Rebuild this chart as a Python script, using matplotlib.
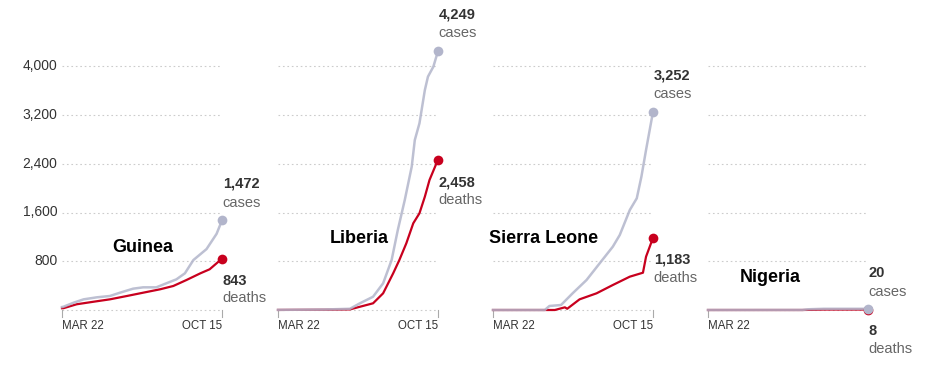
import matplotlib
matplotlib.use("Agg")
import matplotlib.pyplot as plt

# ---- data (day offsets from Mar 22; values) ----
guinea_case_days = [0, 2, 15, 28, 45, 62, 75, 92, 105, 122, 135, 148, 159, 170, 187, 200, 207]
guinea_cases = [49, 54, 120, 175, 208, 230, 284, 350, 372, 372, 438, 503, 602, 820, 1000, 1250, 1472]
guinea_death_days = [0, 2, 19, 41, 62, 84, 105, 127, 144, 161, 179, 191, 207]
guinea_deaths = [29, 30, 94, 136, 175, 230, 284, 340, 394, 492, 602, 668, 843]

liberia_case_days = [0, 60, 93, 106, 123, 136, 147, 155, 164, 173, 177, 183, 190, 194, 201, 207]
liberia_cases = [2, 8, 20, 110, 218, 438, 820, 1313, 1805, 2352, 2790, 3063, 3610, 3829, 3993, 4249]
liberia_death_days = [0, 60, 93, 123, 136, 149, 157, 166, 175, 183, 190, 196, 205, 207]
liberia_deaths = [1, 5, 10, 110, 274, 602, 820, 1094, 1423, 1587, 1860, 2133, 2407, 2458]

sierra_case_days = [0, 67, 73, 88, 103, 121, 138, 155, 164, 177, 186, 192, 198, 207]
sierra_cases = [0, 0, 66, 82, 274, 492, 766, 1039, 1231, 1641, 1833, 2188, 2626, 3252]
sierra_death_days = [0, 80, 93, 96, 112, 134, 155, 177, 194, 198, 207]
sierra_deaths = [0, 0, 44, 20, 175, 274, 410, 547, 612, 875, 1183]

nigeria_case_days = [0, 122, 130, 150, 207]
nigeria_cases = [0, 1, 12, 20, 20]
nigeria_death_days = [0, 122, 130, 150, 207]
nigeria_deaths = [0, 0, 2, 8, 8]

countries = ["Guinea", "Liberia", "Sierra Leone", "Nigeria"]
y_ticks = [0, 800, 1600, 2400, 3200, 4000]
y_tick_labels = ["", "800", "1,600", "2,400", "3,200", "4,000"]
x_labels = ["MAR 22", "OCT 15"]
total_days = 207

series = [
    (guinea_case_days, guinea_cases, guinea_death_days, guinea_deaths),
    (liberia_case_days, liberia_cases, liberia_death_days, liberia_deaths),
    (sierra_case_days, sierra_cases, sierra_death_days, sierra_deaths),
    (nigeria_case_days, nigeria_cases, nigeria_death_days, nigeria_deaths),
]

# ---- layout ----
W, H = 930, 370
fig = plt.figure(figsize=(W / 100, H / 100), dpi=100)
fig.patch.set_facecolor("white")

CASE_C = "#b2b5cb"
DEATH_C = "#c8001e"
TXT = "#333333"
SUB = "#666666"
LABEL_FONT = ["Liberation Sans Narrow", "Liberation Sans", "DejaVu Sans"]
FONT = ["Liberation Sans", "DejaVu Sans"]

y0_px = 310
px_per_unit = 48.75 / 800
ymax = 4400
ax_h_px = ymax * px_per_unit
panel_left = [62, 278, 493, 708]
panel_w = 160

label_pos = [(105, 1020), (105, 1170), (66, 1170), (80, 540)]

for i, (cd, cv, dd, dv) in enumerate(series):
    left = panel_left[i] / W
    bottom = (H - y0_px) / H
    ax = fig.add_axes([left, bottom, panel_w / W, ax_h_px / H])
    ax.set_xlim(0, total_days)
    ax.set_ylim(0, ymax)
    for s in ax.spines.values():
        s.set_visible(False)
    ax.set_xticks([])
    ax.set_yticks([])
    for yt in y_ticks:
        ax.plot([0, total_days], [yt, yt], color="#cccccc", lw=0.8,
                ls=(0, (1.5, 2.5)), zorder=1, clip_on=False)
    if i == 0:
        for yt, lab in zip(y_ticks, y_tick_labels):
            if lab:
                ax.text(-6, yt, lab, ha="right", va="center", fontsize=10,
                        color=TXT, family=FONT)
    ax.plot([0, 0], [0, -110], color="#aaaaaa", lw=0.8, clip_on=False)
    ax.text(0, -260, x_labels[0], ha="left", va="center", fontsize=8.3,
            color=TXT, family=FONT)
    if i != 3:
        ax.plot([total_days, total_days], [0, -110], color="#aaaaaa",
                lw=0.8, clip_on=False)
        ax.text(total_days, -260, x_labels[1], ha="right", va="center",
                fontsize=8.3, color=TXT, family=FONT)
    ax.plot(dd, dv, color=DEATH_C, lw=1.6, zorder=3, clip_on=False,
            solid_joinstyle="round")
    ax.plot(cd, cv, color=CASE_C, lw=1.8, zorder=4, clip_on=False,
            alpha=0.85, solid_joinstyle="round")
    ax.plot([dd[-1]], [dv[-1]], "o", color=DEATH_C, ms=7, zorder=5,
            clip_on=False, mec="none")
    ax.plot([cd[-1]], [cv[-1]], "o", color=CASE_C, ms=7, zorder=6,
            clip_on=False, mec="none")
    lx, ly = label_pos[i]
    ax.text(lx, ly, countries[i], ha="center", va="center", fontsize=13,
            fontweight="bold", color="black", family=LABEL_FONT)
    cval = f"{cv[-1]:,}"
    dval = f"{dv[-1]:,}"
    if i == 3:
        c_y, d_y = 600, -350
    else:
        c_y, d_y = cv[-1] + 600, dv[-1] - 360
    ax.text(total_days + 1, c_y, cval, ha="left", va="center", fontsize=10.5,
            fontweight="bold", color=TXT, family=FONT, clip_on=False)
    ax.text(total_days + 1, c_y - 310, "cases", ha="left", va="center",
            fontsize=10.5, color=SUB, family=FONT, clip_on=False)
    ax.text(total_days + 1, d_y, dval, ha="left", va="center", fontsize=10.5,
            fontweight="bold", color=TXT, family=FONT, clip_on=False)
    ax.text(total_days + 1, d_y - 290, "deaths", ha="left", va="center",
            fontsize=10.5, color=SUB, family=FONT, clip_on=False)

fig.savefig("out.png", dpi=100, facecolor="white")
